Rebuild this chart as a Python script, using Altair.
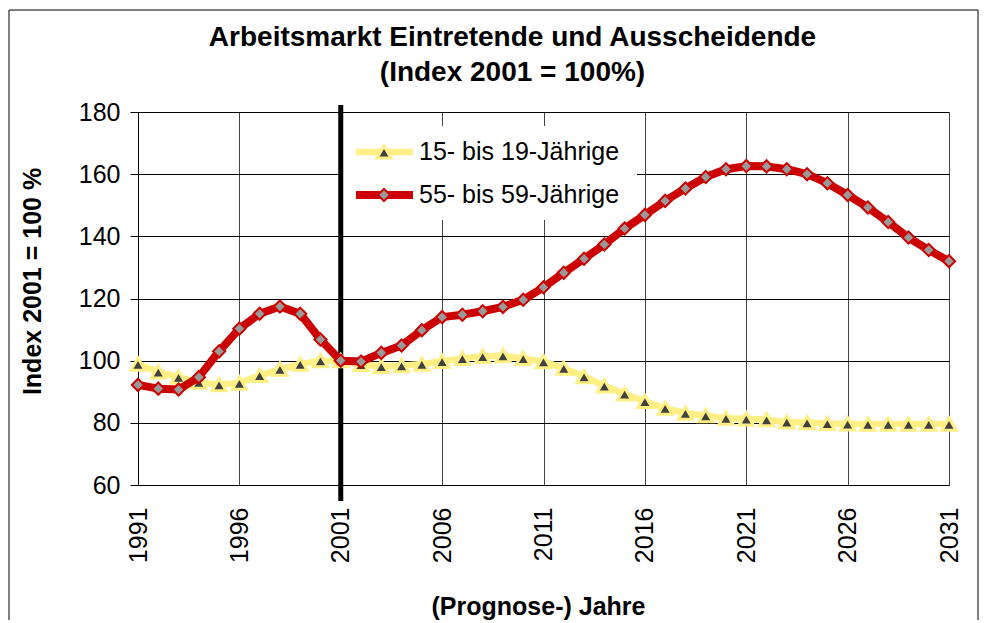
import altair as alt
import pandas as pd

# ---------------- data ----------------
years = list(range(1991, 2032))
series_names = ["15- bis 19-Jährige", "55- bis 59-Jährige"]
jung = [98.9, 96.4, 94.7, 93.1, 92.3, 92.8, 95.3, 97.3, 98.9, 100.0,
        100.0, 98.8, 98.2, 98.4, 98.9, 99.8, 100.7, 101.4, 101.6, 100.7,
        99.7, 97.6, 94.9, 91.9, 89.3, 86.9, 84.7, 83.1, 82.3, 81.5,
        81.3, 81.0, 80.3, 80.1, 79.8, 79.7, 79.6, 79.6, 79.6, 79.6, 79.6]
alt_gr = [92.2, 91.0, 90.7, 94.7, 103.0, 110.3, 115.1, 117.4, 115.1, 106.8,
          100.0, 99.7, 102.5, 104.9, 109.8, 114.0, 114.8, 115.9, 117.3, 119.6,
          123.6, 128.3, 132.8, 137.4, 142.5, 146.9, 151.4, 155.4, 159.1, 161.6,
          162.6, 162.5, 161.6, 160.0, 157.1, 153.3, 149.3, 144.6, 139.6, 135.6, 132.0]
x_ticks = [1991, 1996, 2001, 2006, 2011, 2016, 2021, 2026, 2031]
y_ticks = [60, 80, 100, 120, 140, 160, 180]
basis_jahr = 2001
title_lines = ["Arbeitsmarkt Eintretende und Ausscheidende", "(Index 2001 = 100%)"]

df = pd.DataFrame({
    "Jahr": years * 2,
    "Index": jung + alt_gr,
    "Gruppe": [series_names[0]] * len(years) + [series_names[1]] * len(years),
})

# ---------------- style ----------------
W, H = 811, 373
FONT = "Liberation Sans"
YELLOW = "#FFEF85"
RED = "#CC0000"
styles = [
    dict(color=YELLOW, width=6.5, shape="triangle-up", fill="#404040", size=200, sw=3),
    dict(color=RED, width=8, shape="diamond", fill="#999999", size=150, sw=2),
]

x_enc = alt.X(
    "Jahr:Q",
    scale=alt.Scale(domain=[1991, 2031], nice=False, zero=False),
    axis=alt.Axis(
        values=x_ticks, format="d", labelAngle=270, labelAlign="right",
        labelBaseline="middle", labelPadding=22, ticks=False,
        grid=True, gridColor="#444444", gridWidth=1,
        domainColor="#000000", labelFontSize=25, labelColor="#000000",
        labelFont=FONT, labelFlush=False, labelOverlap=False,
        title="(Prognose-) Jahre", titleFontSize=25, titleFontWeight="bold",
        titleFont=FONT, titleColor="#000000", titleX=400, titleY=121,
        titleAlign="center", titleBaseline="middle",
    ),
)
y_enc = alt.Y(
    "Index:Q",
    scale=alt.Scale(domain=[60, 180], nice=False, zero=False),
    axis=alt.Axis(
        values=y_ticks, tickSize=8, tickColor="#000000", labelPadding=10,
        grid=True, gridColor="#000000", gridWidth=1, domainColor="#000000",
        labelFontSize=25, labelColor="#000000", labelFont=FONT,
        labelFlush=False,
        title="Index 2001 = 100 %", titleFontSize=25, titleFontWeight="bold",
        titleFont=FONT, titleColor="#000000", titleAngle=270,
        titleX=-106, titleY=169, titleAlign="center", titleBaseline="middle",
    ),
)

base = alt.Chart(df)

layers = []

# outer frame of the chart
frame = alt.Chart(pd.DataFrame({"a": [0]})).mark_rect(
    fillOpacity=0, stroke="#000000", strokeWidth=1
).encode(x=alt.value(-129), x2=alt.value(840), y=alt.value(-102), y2=alt.value(520))
layers.append(frame)

# legend box
legend_box = alt.Chart(pd.DataFrame({"a": [0]})).mark_rect(
    fill="#FFFFFF", stroke=None
).encode(x=alt.value(205), x2=alt.value(499), y=alt.value(14), y2=alt.value(108))
layers.append(legend_box)

# basis year rule
rule = alt.Chart(pd.DataFrame({"Jahr": [basis_jahr]})).mark_rule(
    color="#000000", strokeWidth=5
).encode(x=alt.X("Jahr:Q"), y=alt.value(-7), y2=alt.value(389))
layers.append(rule)

for name, st in zip(series_names, styles):
    sub = base.transform_filter(alt.datum.Gruppe == name)
    layers.append(sub.mark_line(color=st["color"], strokeWidth=st["width"],
                                strokeJoin="round").encode(x=x_enc, y=y_enc))
    layers.append(sub.mark_point(shape=st["shape"], filled=True, fill=st["fill"],
                                 stroke=st["color"], strokeWidth=st["sw"],
                                 size=st["size"], opacity=1).encode(x=x_enc, y=y_enc))

# legend entries
for i, (name, st) in enumerate(zip(series_names, styles)):
    yy = 40 + i * 43
    ld = alt.Chart(pd.DataFrame({"name": [name]}))
    layers.append(ld.mark_rule(color=st["color"], strokeWidth=st["width"]).encode(
        x=alt.value(218), x2=alt.value(275), y=alt.value(yy)))
    layers.append(ld.mark_point(shape=st["shape"], filled=True, fill=st["fill"],
                                stroke=st["color"], strokeWidth=st["sw"],
                                size=st["size"], opacity=1).encode(
        x=alt.value(246), y=alt.value(yy)))
    layers.append(ld.mark_text(align="left", baseline="middle", fontSize=25,
                               font=FONT, color="#000000").encode(
        x=alt.value(281), y=alt.value(yy), text="name:N"))

chart = alt.layer(*layers).properties(
    width=W, height=H,
    title=alt.TitleParams(
        text=title_lines, fontSize=28, fontWeight="bold", font=FONT,
        color="#000000", anchor="middle", dx=-31, offset=-77, lineHeight=35,
    ),
    autosize=alt.AutoSizeParams(type="none"),
    padding={"left": 130, "top": 104, "right": 30, "bottom": 135},
).configure_view(stroke="#000000", strokeWidth=1).configure(font=FONT)

chart.save("out.html", embed_options={"renderer": "svg", "actions": False})
